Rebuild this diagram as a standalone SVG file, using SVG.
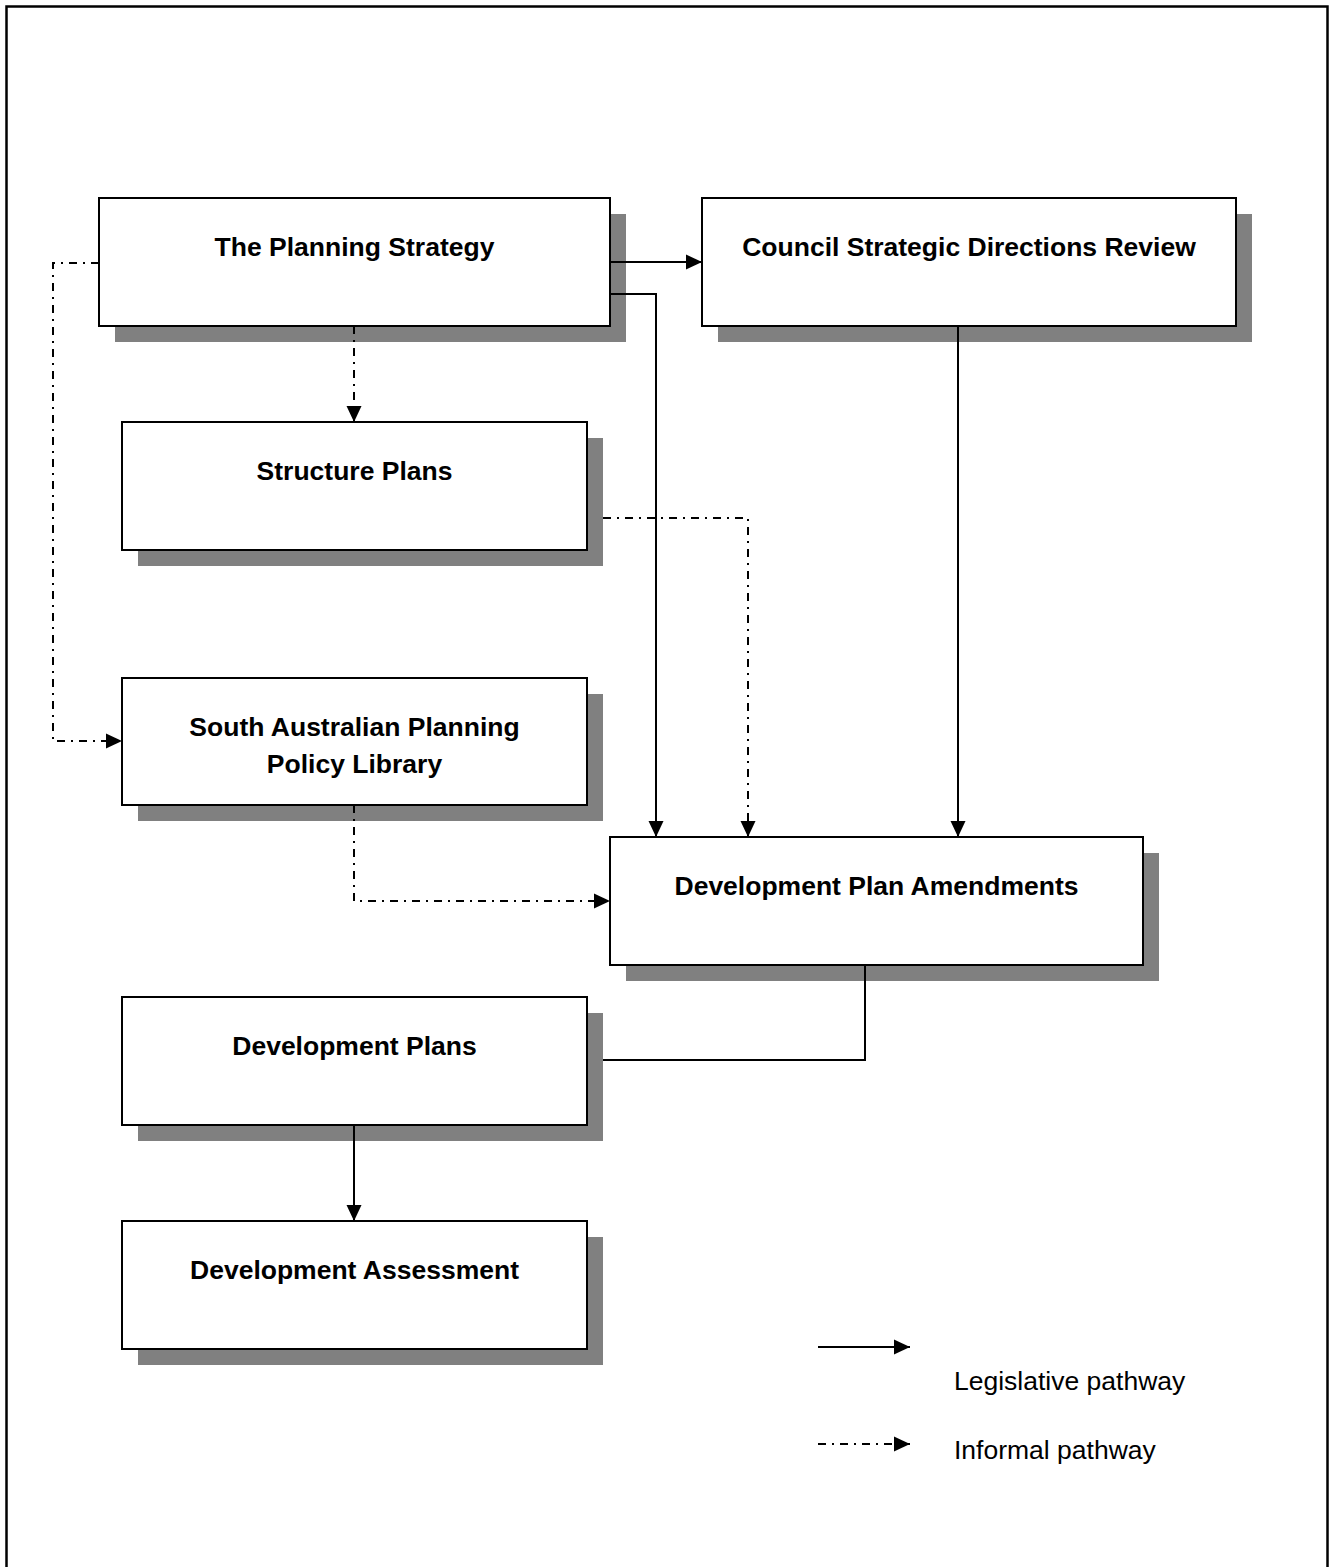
<svg xmlns="http://www.w3.org/2000/svg" width="1330" height="1567" viewBox="0 0 1330 1567">
<style>
.box{fill:#fff;stroke:#000;stroke-width:2}
.shadow{fill:#808080}
.lbl{font-family:"Liberation Sans",Arial,sans-serif;font-size:26.5px;font-weight:bold;fill:#000;text-anchor:middle}
.leg{font-family:"Liberation Sans",Arial,sans-serif;font-size:26.5px;fill:#000}
.solid{fill:none;stroke:#000;stroke-width:2}
.dash{fill:none;stroke:#000;stroke-width:2;stroke-dasharray:8 6 2 6}
</style>
<defs>
<marker id="arr" markerUnits="userSpaceOnUse" markerWidth="16" markerHeight="16" viewBox="0 0 16 16" refX="16" refY="8" orient="auto">
<path d="M0,0.5 L16,8 L0,15.5 Z" fill="#000"/>
</marker>
</defs>
<rect x="6.5" y="6.5" width="1321" height="1600" fill="#fff" stroke="#000" stroke-width="2.5"/>

<g id="n-planning-strategy">
<rect class="shadow" x="115" y="214" width="511" height="128"/>
<rect class="box" x="99" y="198" width="511" height="128"/>
<text class="lbl" x="354.5" y="256">The Planning Strategy</text>
</g>
<g id="n-council">
<rect class="shadow" x="718" y="214" width="534" height="128"/>
<rect class="box" x="702" y="198" width="534" height="128"/>
<text class="lbl" x="969" y="256">Council Strategic Directions Review</text>
</g>
<g id="n-structure-plans">
<rect class="shadow" x="138" y="438" width="465" height="128"/>
<rect class="box" x="122" y="422" width="465" height="128"/>
<text class="lbl" x="354.5" y="480">Structure Plans</text>
</g>
<g id="n-sappl">
<rect class="shadow" x="138" y="694" width="465" height="127"/>
<rect class="box" x="122" y="678" width="465" height="127"/>
<text class="lbl" x="354.5" y="736">South Australian Planning</text>
<text class="lbl" x="354.5" y="773">Policy Library</text>
</g>
<g id="n-dpa">
<rect class="shadow" x="626" y="853" width="533" height="128"/>
<rect class="box" x="610" y="837" width="533" height="128"/>
<text class="lbl" x="876.5" y="895">Development Plan Amendments</text>
</g>
<g id="n-dev-plans">
<rect class="shadow" x="138" y="1013" width="465" height="128"/>
<rect class="box" x="122" y="997" width="465" height="128"/>
<text class="lbl" x="354.5" y="1055">Development Plans</text>
</g>
<g id="n-dev-assessment">
<rect class="shadow" x="138" y="1237" width="465" height="128"/>
<rect class="box" x="122" y="1221" width="465" height="128"/>
<text class="lbl" x="354.5" y="1279">Development Assessment</text>
</g>

<g id="connectors">
<path class="solid" d="M610,262 H702" marker-end="url(#arr)"/>
<path class="solid" d="M610,294 H656 V837" marker-end="url(#arr)"/>
<path class="solid" d="M958,326 V837" marker-end="url(#arr)"/>
<path class="dash" d="M603,518 H748 V837" marker-end="url(#arr)"/>
<path class="dash" d="M99,263 H53 V741 H122" marker-end="url(#arr)"/>
<path class="dash" d="M354,326 V422" marker-end="url(#arr)"/>
<path class="dash" d="M354,805 V901 H610" marker-end="url(#arr)"/>
<path class="solid" d="M865,965 V1060 H603"/>
<path class="solid" d="M354,1125 V1221" marker-end="url(#arr)"/>
</g>

<g id="legend">
<path class="solid" d="M818,1347 H910" marker-end="url(#arr)"/>
<text class="leg" x="954" y="1390">Legislative pathway</text>
<path class="dash" d="M818,1444 H910" marker-end="url(#arr)"/>
<text class="leg" x="954" y="1459">Informal pathway</text>
</g>
</svg>
